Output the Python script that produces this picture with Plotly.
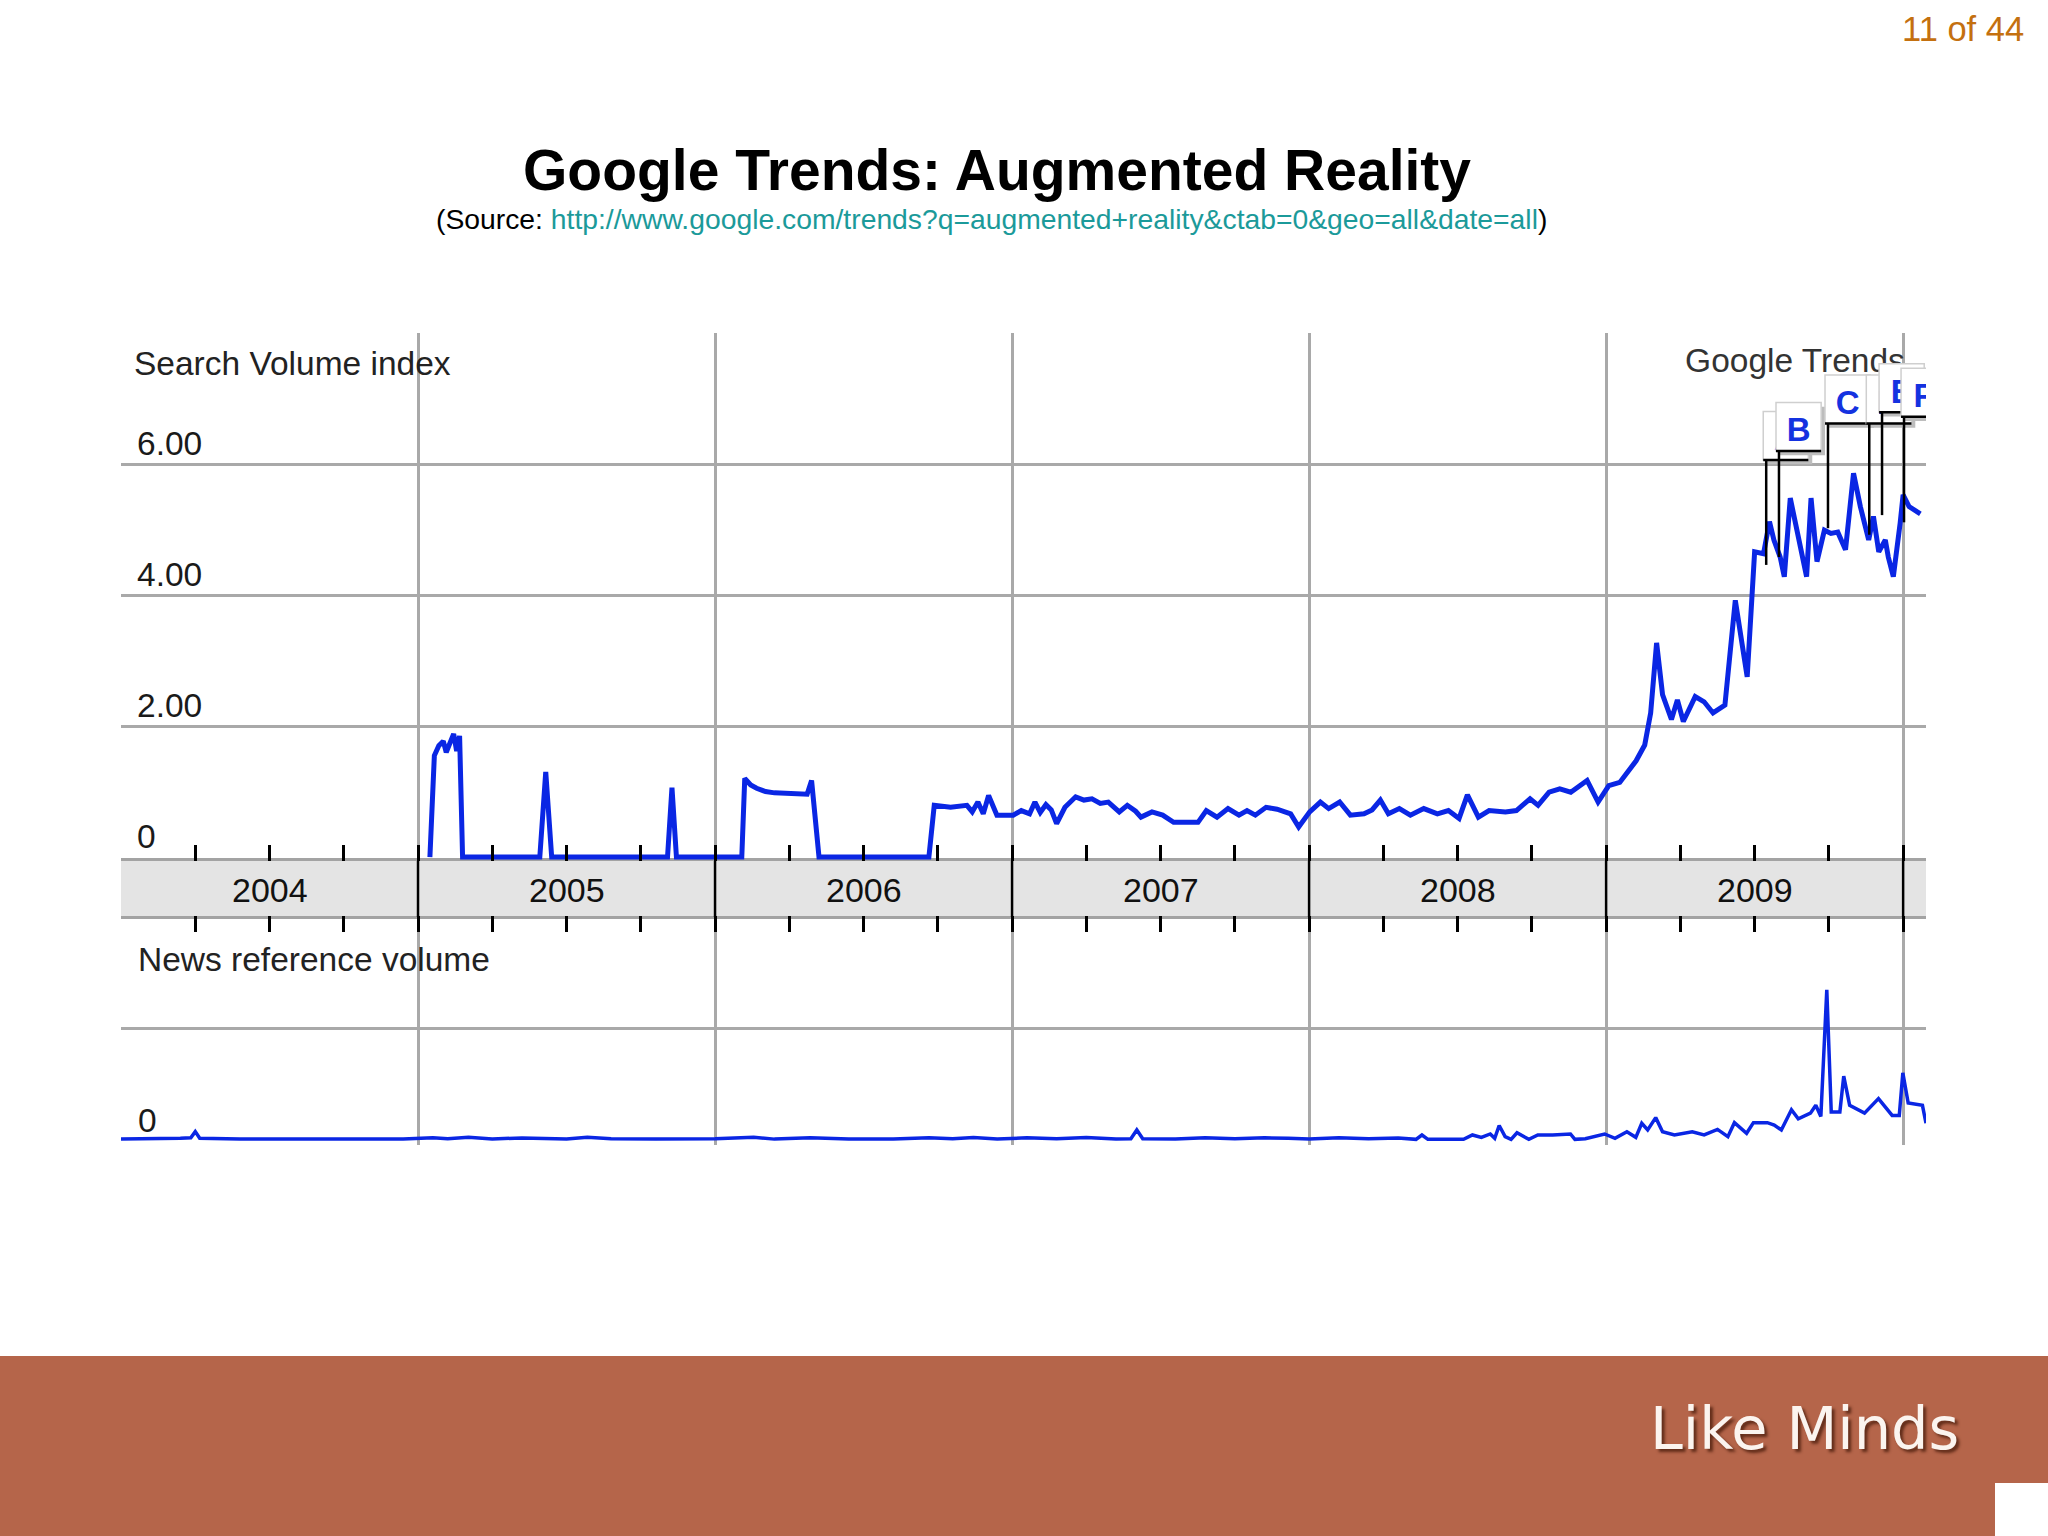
import plotly.graph_objects as go

# ---------------- data ----------------
# Search Volume index (upper panel): decimal year -> value
sv_year = [2005.040, 2005.055, 2005.070, 2005.085, 2005.095, 2005.110, 2005.120, 2005.130, 2005.140, 2005.150,
           2005.410, 2005.430, 2005.450, 2005.840, 2005.855, 2005.870, 2006.090, 2006.100, 2006.120, 2006.140,
           2006.170, 2006.200, 2006.240, 2006.280, 2006.310, 2006.325, 2006.350, 2006.720,
           2006.738, 2006.793, 2006.848, 2006.866, 2006.885, 2006.903, 2006.921, 2006.949, 2007.004, 2007.031,
           2007.059, 2007.077, 2007.095, 2007.114, 2007.132, 2007.150, 2007.178, 2007.214, 2007.242, 2007.269,
           2007.297, 2007.324, 2007.361, 2007.388, 2007.416, 2007.434, 2007.471, 2007.507, 2007.544, 2007.626,
           2007.654, 2007.690, 2007.727, 2007.764, 2007.791, 2007.819, 2007.855, 2007.892, 2007.938, 2007.965,
           2008.002, 2008.038, 2008.066, 2008.103, 2008.139, 2008.185, 2008.212, 2008.240, 2008.267, 2008.304,
           2008.341, 2008.386, 2008.432, 2008.469, 2008.505, 2008.533, 2008.570, 2008.606, 2008.661, 2008.698,
           2008.744, 2008.771, 2008.808, 2008.844, 2008.881, 2008.936, 2008.973, 2009.009, 2009.046, 2009.101,
           2009.130, 2009.150, 2009.170, 2009.190, 2009.220, 2009.240, 2009.260, 2009.300, 2009.330, 2009.360,
           2009.400, 2009.435, 2009.475, 2009.500, 2009.530, 2009.550, 2009.565, 2009.586, 2009.600, 2009.620,
           2009.650, 2009.675, 2009.690, 2009.710, 2009.735, 2009.757, 2009.780, 2009.806, 2009.833, 2009.856,
           2009.884, 2009.900, 2009.918, 2009.940, 2009.950, 2009.967, 2009.990, 2010.000, 2010.020, 2010.058]
sv_val = [0.00, 1.55, 1.70, 1.77, 1.60, 1.75, 1.88, 1.62, 1.85, 0.00,
          0.00, 1.30, 0.00, 0.00, 1.06, 0.00, 0.00, 1.20, 1.10, 1.05,
          1.00, 0.98, 0.97, 0.95, 0.96, 1.17, 0.00, 0.00,
          0.79, 0.76, 0.79, 0.69, 0.84, 0.66, 0.94, 0.64, 0.64, 0.71,
          0.66, 0.84, 0.68, 0.80, 0.72, 0.51, 0.76, 0.92, 0.87, 0.89,
          0.82, 0.84, 0.69, 0.79, 0.70, 0.61, 0.69, 0.64, 0.53, 0.53,
          0.71, 0.61, 0.74, 0.64, 0.71, 0.64, 0.76, 0.73, 0.66, 0.46,
          0.69, 0.84, 0.74, 0.84, 0.64, 0.66, 0.72, 0.87, 0.66, 0.74,
          0.64, 0.74, 0.66, 0.71, 0.59, 0.95, 0.61, 0.71, 0.69, 0.71,
          0.89, 0.79, 0.99, 1.04, 0.99, 1.17, 0.84, 1.09, 1.14, 1.47,
          1.71, 2.20, 3.27, 2.48, 2.10, 2.40, 2.07, 2.45, 2.37, 2.20,
          2.32, 3.92, 2.75, 4.66, 4.63, 5.12, 4.84, 4.58, 4.28, 5.48,
          4.87, 4.28, 5.48, 4.51, 4.99, 4.94, 4.96, 4.69, 5.86, 5.35,
          4.84, 5.20, 4.66, 4.84, 4.58, 4.28, 5.10, 5.53, 5.35, 5.24]

# News reference volume (lower panel)
news_year = [2004.000, 2004.100, 2004.200, 2004.235, 2004.250, 2004.265, 2004.400, 2004.700, 2004.950, 2005.050,
             2005.100, 2005.170, 2005.250, 2005.350, 2005.500, 2005.570, 2005.650, 2005.800, 2006.000, 2006.130,
             2006.200, 2006.320, 2006.450, 2006.600, 2006.720, 2006.800, 2006.870, 2006.950, 2007.050, 2007.150,
             2007.250, 2007.350, 2007.400, 2007.420, 2007.440, 2007.550, 2007.650, 2007.750, 2007.850, 2007.930,
             2008.000, 2008.100, 2008.200, 2008.300, 2008.360, 2008.380, 2008.400, 2008.520, 2008.550, 2008.580,
             2008.610, 2008.625, 2008.640, 2008.660, 2008.680, 2008.700, 2008.740, 2008.770, 2008.820, 2008.880,
             2008.895, 2008.930, 2008.995, 2009.030, 2009.070, 2009.100, 2009.120, 2009.140, 2009.167, 2009.190,
             2009.230, 2009.290, 2009.330, 2009.375, 2009.410, 2009.432, 2009.473, 2009.496, 2009.543, 2009.566,
             2009.590, 2009.624, 2009.647, 2009.688, 2009.706, 2009.723, 2009.743, 2009.758, 2009.787, 2009.800,
             2009.820, 2009.870, 2009.917, 2009.963, 2009.987, 2009.999, 2010.017, 2010.065, 2010.077]
news_val = [0.010, 0.010, 0.015, 0.020, 0.075, 0.015, 0.008, 0.010, 0.008, 0.020,
            0.012, 0.025, 0.010, 0.018, 0.010, 0.025, 0.012, 0.010, 0.012, 0.025,
            0.008, 0.020, 0.008, 0.010, 0.020, 0.012, 0.022, 0.008, 0.020, 0.012,
            0.022, 0.008, 0.012, 0.090, 0.012, 0.008, 0.020, 0.012, 0.020, 0.015,
            0.010, 0.020, 0.012, 0.018, 0.006, 0.045, 0.006, 0.006, 0.045, 0.024,
            0.054, 0.015, 0.130, 0.030, 0.006, 0.065, 0.006, 0.045, 0.045, 0.054,
            0.006, 0.012, 0.054, 0.015, 0.074, 0.024, 0.150, 0.090, 0.200, 0.074,
            0.045, 0.074, 0.045, 0.095, 0.030, 0.155, 0.060, 0.155, 0.155, 0.134,
            0.090, 0.270, 0.190, 0.240, 0.310, 0.210, 1.340, 0.250, 0.250, 0.570,
            0.310, 0.240, 0.370, 0.220, 0.220, 0.600, 0.330, 0.310, 0.150]

year_labels = ["2004", "2005", "2006", "2007", "2008", "2009"]
year_bounds = [2005, 2006, 2007, 2008, 2009, 2010]
sv_tick_vals = [6, 4, 2, 0]
sv_tick_labels = ["6.00", "4.00", "2.00", "0"]

# news flags
flag_letters = ["A", "B", "C", "D", "E", "F"]
flag_year = [2009.539, 2009.582, 2009.747, 2009.886, 2009.929, 2010.003]
flag_point = [4.46, 4.58, 5.02, 4.92, 5.22, 5.11]
flag_box_bottom = [6.06, 6.20, 6.62, 6.62, 6.79, 6.72]

# ---------------- layout geometry ----------------
W, H = 2048, 1536
def px(x):
    return x / W
def py(y):
    return 1 - y / H

X0, X1 = 2004.0, 2010.077
XDOM = [px(121), px(1926)]
BLUE = "#0a26e4"
GRID = "#a9a9a9"
FONT = "Liberation Sans, Arial, sans-serif"
LBL = 33.5

fig = go.Figure()
fig.add_trace(go.Scatter(x=sv_year, y=sv_val, mode="lines", xaxis="x", yaxis="y",
                         line=dict(color=BLUE, width=5), hoverinfo="skip", showlegend=False))
fig.add_trace(go.Scatter(x=news_year, y=news_val, mode="lines", xaxis="x2", yaxis="y2",
                         line=dict(color=BLUE, width=3.5), hoverinfo="skip", showlegend=False))
fig.add_trace(go.Scatter(x=[2009.266], y=[7.53], mode="text", text=["Google Trends"],
                         textposition="middle right", cliponaxis=False, xaxis="x", yaxis="y",
                         textfont=dict(family=FONT, size=LBL, color="#333333"),
                         hoverinfo="skip", showlegend=False))

quarters = [y + q for y in range(2004, 2010) for q in (0.25, 0.5, 0.75)]
common_x = dict(range=[X0, X1], domain=XDOM, showgrid=True, gridcolor=GRID, gridwidth=2.5,
                tickmode="array", tickvals=year_bounds, ticks="inside", ticklen=16, tickwidth=2.5,
                tickcolor="black", showticklabels=False, zeroline=False, showline=False,
                minor=dict(tickmode="array", tickvals=quarters, ticks="inside", ticklen=16,
                           tickwidth=2.5, tickcolor="black", showgrid=False))

fig.update_layout(
    width=W, height=H, margin=dict(l=0, r=0, t=0, b=0),
    paper_bgcolor="white", plot_bgcolor="rgba(0,0,0,0)",
    xaxis=dict(anchor="y", **common_x),
    xaxis2=dict(anchor="y2", side="top", **common_x),
    yaxis=dict(domain=[py(861), py(333)], range=[-0.06, 8.0], tickmode="array", tickvals=[2, 4, 6],
               showgrid=True, gridcolor=GRID, gridwidth=2.5, showticklabels=False, zeroline=False,
               ticks=""),
    yaxis2=dict(domain=[py(1144.5), py(916)], range=[-0.04, 2.0], tickmode="array", tickvals=[1],
                showgrid=True, gridcolor=GRID, gridwidth=2.5, showticklabels=False, zeroline=False,
                ticks=""),
)

shapes = []
# date band between panels
shapes.append(dict(type="rect", xref="paper", yref="paper", x0=XDOM[0], x1=XDOM[1],
                   y0=py(917), y1=py(861), fillcolor="#e4e4e4", line=dict(width=0), layer="below"))
for yy in (859.5, 917.5):
    shapes.append(dict(type="line", xref="paper", yref="paper", x0=XDOM[0], x1=XDOM[1],
                       y0=py(yy), y1=py(yy), line=dict(color="#a3a3a3", width=3), layer="below"))
for yb in year_bounds:
    shapes.append(dict(type="line", xref="x", yref="paper", x0=yb, x1=yb,
                       y0=py(917), y1=py(861), line=dict(color="black", width=2.5), layer="above"))

# news flags
BOX_W = 0.152
BOX_H = 0.74
POLE_OFF = 0.010
for L, fx, fp, fb in zip(flag_letters, flag_year, flag_point, flag_box_bottom):
    x0 = fx - POLE_OFF
    x1 = x0 + BOX_W
    shapes.append(dict(type="rect", xref="x", yref="y", x0=x0 + 0.013, x1=x1 + 0.013,
                       y0=fb - 0.065, y1=fb + BOX_H - 0.065, fillcolor="#bdbdbd",
                       line=dict(width=0), layer="above"))
    shapes.append(dict(type="rect", xref="x", yref="y", x0=x0, x1=x1, y0=fb, y1=fb + BOX_H,
                       fillcolor="white", line=dict(color="#cfcfcf", width=1.5), layer="above",
                       label=dict(text="<b>%s</b>" % L, textposition="middle center",
                                  font=dict(family=FONT, size=33, color="#1432e0"))))
    shapes.append(dict(type="line", xref="x", yref="y", x0=x0, x1=x1, y0=fb, y1=fb,
                       line=dict(color="black", width=2.5), layer="above"))
    shapes.append(dict(type="line", xref="x", yref="y", x0=fx, x1=fx, y0=fb, y1=fp,
                       line=dict(color="black", width=2.5), layer="above"))

# footer
shapes.append(dict(type="rect", xref="paper", yref="paper", x0=0, x1=1, y0=0, y1=py(1356),
                   fillcolor="#b5654a", line=dict(width=0), layer="above"))
shapes.append(dict(type="rect", xref="paper", yref="paper", x0=px(1995), x1=1, y0=0, y1=py(1483),
                   fillcolor="white", line=dict(width=0), layer="above"))
fig.update_layout(shapes=shapes)

ann = []
for lab, v in zip(sv_tick_labels, sv_tick_vals):
    ann.append(dict(text=lab, xref="paper", yref="y", x=px(135), y=v + 0.31, xanchor="left",
                    yanchor="middle", showarrow=False, font=dict(family=FONT, size=LBL, color="#1a1a1a")))
ann.append(dict(text="Search Volume index", xref="paper", yref="y", x=px(132), y=7.53,
                xanchor="left", yanchor="middle", showarrow=False,
                font=dict(family=FONT, size=LBL, color="#222222")))
ann.append(dict(text="News reference volume", xref="paper", yref="y2", x=px(136), y=1.61,
                xanchor="left", yanchor="middle", showarrow=False,
                font=dict(family=FONT, size=LBL, color="#222222")))
ann.append(dict(text="0", xref="paper", yref="y2", x=px(136), y=0.17,
                xanchor="left", yanchor="middle", showarrow=False,
                font=dict(family=FONT, size=LBL, color="#1a1a1a")))
for lab in year_labels:
    ann.append(dict(text=lab, xref="x", yref="paper", x=int(lab) + 0.5, y=py(890),
                    xanchor="center", yanchor="middle", showarrow=False,
                    font=dict(family=FONT, size=34, color="#111111")))
ann.append(dict(text="<b>Google Trends: Augmented Reality</b>", xref="paper", yref="paper",
                x=px(997), y=py(170), xanchor="center", yanchor="middle", showarrow=False,
                font=dict(family=FONT, size=57, color="black")))
ann.append(dict(text="(Source: <span style='color:#1b9a9a'>http://www.google.com/trends?q=augmented+reality&amp;ctab=0&amp;geo=all&amp;date=all</span>)",
                xref="paper", yref="paper", x=px(991), y=py(219), xanchor="center", yanchor="middle",
                showarrow=False, font=dict(family=FONT, size=28.3, color="black")))
ann.append(dict(text="11 of 44", xref="paper", yref="paper", x=px(2026), y=py(29), xanchor="right",
                yanchor="middle", showarrow=False, font=dict(family=FONT, size=34.5, color="#c4700f")))
ann.append(dict(text="Like Minds", xref="paper", yref="paper", x=px(1804), y=py(1428),
                xanchor="center", yanchor="middle", showarrow=False,
                font=dict(family="DejaVu Sans, Verdana, sans-serif", size=59, color="#fbf4ef",
                          shadow="3px 3px 3px rgba(70,25,10,0.75)")))
fig.update_layout(annotations=ann)

fig.write_html("out.html", config={"displayModeBar": False},
               post_script="document.body.style.margin='0';document.body.style.overflow='hidden';")
